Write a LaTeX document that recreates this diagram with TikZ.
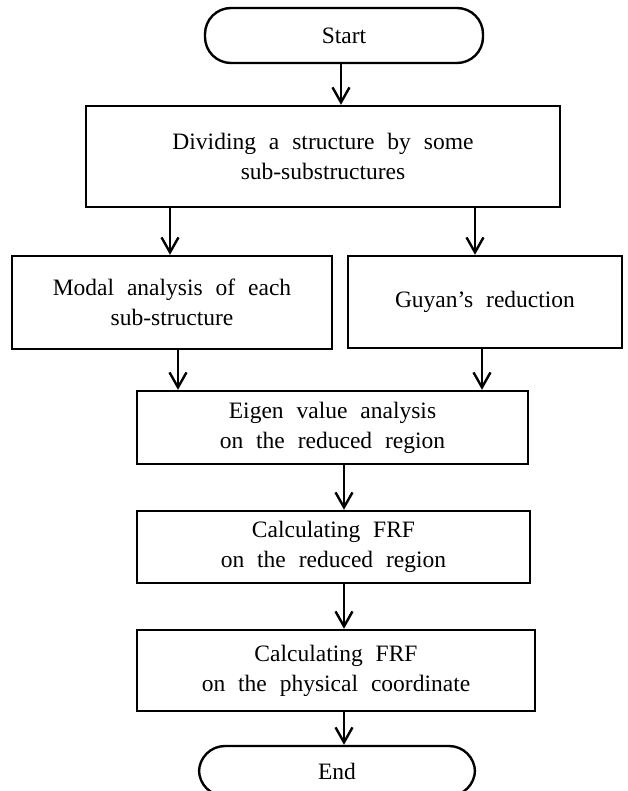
\documentclass[tikz,border=0pt]{standalone}
\usepackage{fontspec}
\setmainfont{Liberation Serif}[WordSpace=2.2]
\usepackage{tikz}
\usetikzlibrary{arrows.meta,positioning}

\begin{document}
\begin{tikzpicture}[x=1pt,y=-1pt,line width=2.4pt,
    >={Straight Barb[length=15pt,width=17pt]},
    box/.style={draw,rectangle,align=center,inner sep=0pt,
      font=\fontsize{23.5}{30}\selectfont},
    term/.style={box,rounded corners=26pt}]
    \useasboundingbox (0,0) rectangle (627,791);

    \node[term,minimum width=278pt,minimum height=55pt] (start) at (344,35.5) {Start};
    \node[box,minimum width=474pt,minimum height=101pt] (divide) at (323,156.5)
        {Dividing a structure by some\\sub-substructures};
    \node[box,minimum width=320pt,minimum height=93pt] (modal) at (172,302.5)
        {Modal analysis of each\\sub-structure};
    \node[box,minimum width=274pt,minimum height=92pt] (guyan) at (485,302)
        {Guyan's reduction};
    \node[box,minimum width=391pt,minimum height=73pt] (eigen) at (332.5,427.5)
        {Eigen value analysis\\on the reduced region};
    \node[box,minimum width=393pt,minimum height=72pt] (frfred) at (333.5,547)
        {Calculating FRF\\on the reduced region};
    \node[box,minimum width=398pt,minimum height=81pt] (frfphys) at (336,670.5)
        {Calculating FRF\\on the physical coordinate};
    \node[term,minimum width=276pt,minimum height=50pt] (stop) at (337,771) {End};

    \draw[->] ([xshift=-3pt]start.south) -- ([xshift=-3pt]start.south |- divide.north);
    \draw[->] ([xshift=-2pt]modal.north |- divide.south) -- ([xshift=-2pt]modal.north);
    \draw[->] ([xshift=-10pt]guyan.north |- divide.south) -- ([xshift=-10pt]guyan.north);
    \draw[->] ([xshift=6pt]modal.south) -- ([xshift=6pt]modal.south |- eigen.north);
    \draw[->] ([xshift=-3pt]guyan.south) -- ([xshift=-3pt]guyan.south |- eigen.north);
    \draw[->] (eigen.south -| start.south) -- (frfred.north -| start.south);
    \draw[->] (frfred.south -| start.south) -- (frfphys.north -| start.south);
    \draw[->] (frfphys.south -| start.south) -- (stop.north -| start.south);
\end{tikzpicture}
\end{document}
